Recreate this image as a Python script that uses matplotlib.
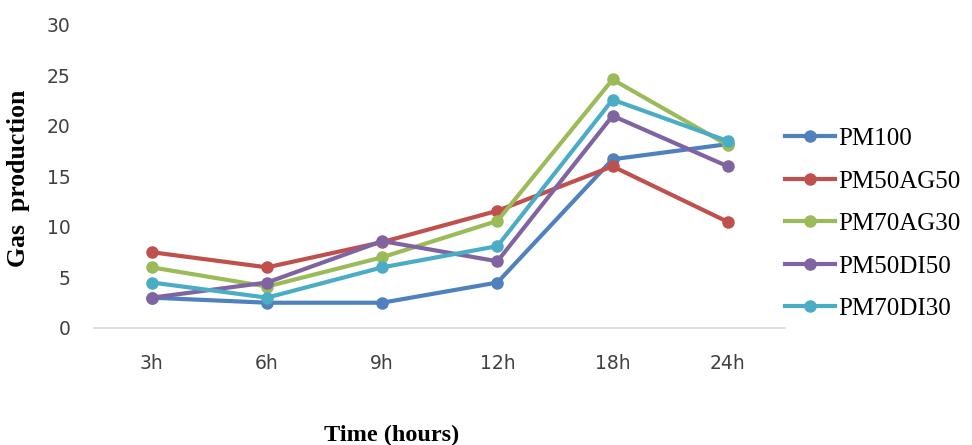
import matplotlib
matplotlib.use("Agg")
import matplotlib.pyplot as plt
from matplotlib.lines import Line2D

categories = ["3h", "6h", "9h", "12h", "18h", "24h"]
series_names = ["PM100", "PM50AG50", "PM70AG30", "PM50DI50", "PM70DI30"]
pm100 = [3.0, 2.5, 2.5, 4.5, 16.7, 18.2]
pm50ag50 = [7.5, 6.0, 8.5, 11.6, 16.0, 10.5]
pm70ag30 = [6.0, 4.1, 7.0, 10.6, 24.6, 18.1]
pm50di50 = [3.0, 4.5, 8.6, 6.6, 21.0, 16.0]
pm70di30 = [4.5, 3.0, 6.0, 8.1, 22.6, 18.5]
yticks = [0, 5, 10, 15, 20, 25, 30]

colors = ["#4F81BD", "#C0504D", "#9BBB59", "#8064A2", "#4BACC6"]
data = [pm100, pm50ag50, pm70ag30, pm50di50, pm70di30]

fig = plt.figure(figsize=(9.72, 4.45), dpi=100)
ax = fig.add_axes([0.097, 0.263, 0.711, 0.681])

x = list(range(len(categories)))
for vals, c, name in zip(data, colors, series_names):
    ax.plot(x, vals, color=c, lw=3, marker="o", ms=8, label=name, solid_capstyle="round")

ax.set_xlim(-0.5, len(categories) - 0.5)
ax.set_ylim(0, 30)
ax.set_yticks(yticks)
ax.set_xticks(x)
ax.set_xticklabels(categories)
for s in ["top", "right", "left"]:
    ax.spines[s].set_visible(False)
ax.spines["bottom"].set_color("#D9D9D9")
ax.spines["bottom"].set_linewidth(1.2)
ax.tick_params(axis="both", length=0, labelsize=13.5, colors="#404040")
ax.tick_params(axis="y", pad=17)
ax.tick_params(axis="x", pad=19)

fig.text(0.019, 0.60, "Gas  production", rotation=90, ha="center", va="center",
         family="Liberation Serif", fontweight="bold", fontsize=18.5)
fig.text(0.403, 0.022, "Time (hours)", ha="center", va="center",
         family="Liberation Serif", fontweight="bold", fontsize=17.5)

handles = [Line2D([0], [0], color=c, lw=3, marker="o", ms=8) for c in colors]
fig.legend(handles, series_names, loc="center left", bbox_to_anchor=(0.808, 0.497),
           frameon=False, prop={"family": "Liberation Serif", "size": 18},
           handlelength=2.0, handletextpad=0.1, labelspacing=0.8, borderaxespad=0,
           borderpad=0)

fig.savefig("out.png", dpi=100)
